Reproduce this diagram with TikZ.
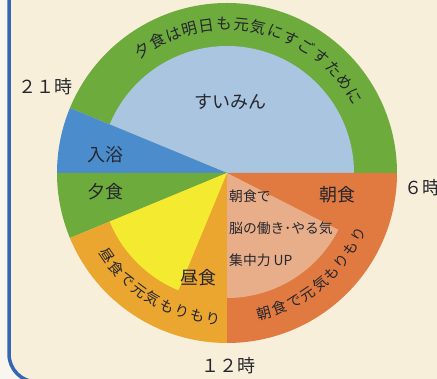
\documentclass[tikz,border=0pt]{standalone}
\usepackage{fontspec}
\newfontfamily\jp{Noto Sans CJK JP}
\definecolor{bgcream}{HTML}{F7EFD9}
\definecolor{outwhite}{HTML}{F8F6EE}
\definecolor{framebl}{HTML}{3566B5}
\definecolor{ringgreen}{HTML}{6CAB3C}
\definecolor{sleepblue}{HTML}{A9C5E0}
\definecolor{bathblue}{HTML}{4B8CCC}
\definecolor{lunchyel}{HTML}{F4EA30}
\definecolor{lunchor}{HTML}{EAA62E}
\definecolor{morningor}{HTML}{E07A40}
\definecolor{peach}{HTML}{E8AE8A}
\definecolor{txt}{HTML}{26262E}
\tikzset{
  lbl/.style={font=\jp\fontsize{18}{18}\selectfont, text=txt, inner sep=0pt},
  small/.style={font=\jp\fontsize{13.8}{14}\selectfont, text=txt, inner sep=0pt, anchor=west},
  hour/.style={font=\jp\fontsize{18}{18}\selectfont, text=txt, inner sep=0pt},
  topchar/.style={font=\jp\fontsize{15.5}{16}\selectfont, text=txt, inner sep=0pt, text height=12pt, text depth=0.5pt},
  botchar/.style={font=\jp\fontsize{14.6}{15}\selectfont, text=txt, inner sep=0pt, text height=11.5pt, text depth=0.5pt}
}
\begin{document}
\begin{tikzpicture}[x=1pt,y=1pt]
\useasboundingbox (0,0) rectangle (437,379);
\clip (0,0) rectangle (437,379);
\fill[outwhite] (0,0) rectangle (437,379);
\draw[framebl, line width=3.5pt, fill=bgcream, rounded corners=28pt] (9,-3) rectangle (480,420);
\coordinate (C) at (227,206);
% top: ring and sleep
\fill[ringgreen] (C) -- ++(0:170) arc[start angle=0, end angle=157.5, radius=170] -- cycle;
\fill[sleepblue] (C) -- ++(0:127) arc[start angle=0, end angle=157.5, radius=127] -- cycle;
% bath
\fill[bathblue] (C) -- ++(157.5:170) arc[start angle=157.5, end angle=180, radius=170] -- cycle;
% dinner
\fill[ringgreen] (C) -- ++(180:170) arc[start angle=180, end angle=202.5, radius=170] -- cycle;
% lunch
\fill[lunchor] (C) -- ++(202.5:170) arc[start angle=202.5, end angle=270, radius=170] -- cycle;
\fill[lunchyel] (C) -- ++(202.5:127) arc[start angle=202.5, end angle=247.5, radius=127] -- cycle;
% breakfast
\fill[morningor] (C) -- ++(270:170) arc[start angle=270, end angle=360, radius=170] -- cycle;
\fill[peach] (C) -- ++(270:125) arc[start angle=270, end angle=333, radius=125] -- cycle;
% labels
\node[lbl] (sleep) at (230,277) {すいみん};
\node[lbl] (bath) at (105,224) {入浴};
\node[lbl] (dinner) at (105,187) {夕食};
\node[lbl] (breakfast) at (337,184) {朝食};
\node[lbl] (lunch) at (198,101) {昼食};
\node[small] (b1) at (229,183) {朝食で};
\node[small] (b2) at (229,151) {脳の働き･やる気};
\node[small] (b3) at (229,119) {集中力 UP};
\node[hour] (h21) at (45,292) {２１時};
\node[hour] (h6) at (422,191) {６時};
\node[hour] (h12) at (228,13) {１２時};
% arc texts
\foreach \ch [count=\i from 0] in {夕,食,は,明,日,も,元,気,に,す,ご,す,た,め,に} {
  \pgfmathsetmacro\a{124.5-\i*93.5/14}
  \node[topchar, rotate=\a-90] (top\i) at ([shift={(\a:149)}]C) {\ch};
}
\foreach \ch [count=\i from 0] in {昼,食,で,元,気,も,り,も,り} {
  \pgfmathsetmacro\a{214.5+\i*50/8}
  \node[botchar, rotate=\a+90] (bl\i) at ([shift={(\a:146)}]C) {\ch};
}
\foreach \ch [count=\i from 0] in {朝,食,で,元,気,も,り,も,り} {
  \pgfmathsetmacro\a{285+\i*50/8}
  \node[botchar, rotate=\a+90] (br\i) at ([shift={(\a:145)}]C) {\ch};
}
\end{tikzpicture}
\end{document}
